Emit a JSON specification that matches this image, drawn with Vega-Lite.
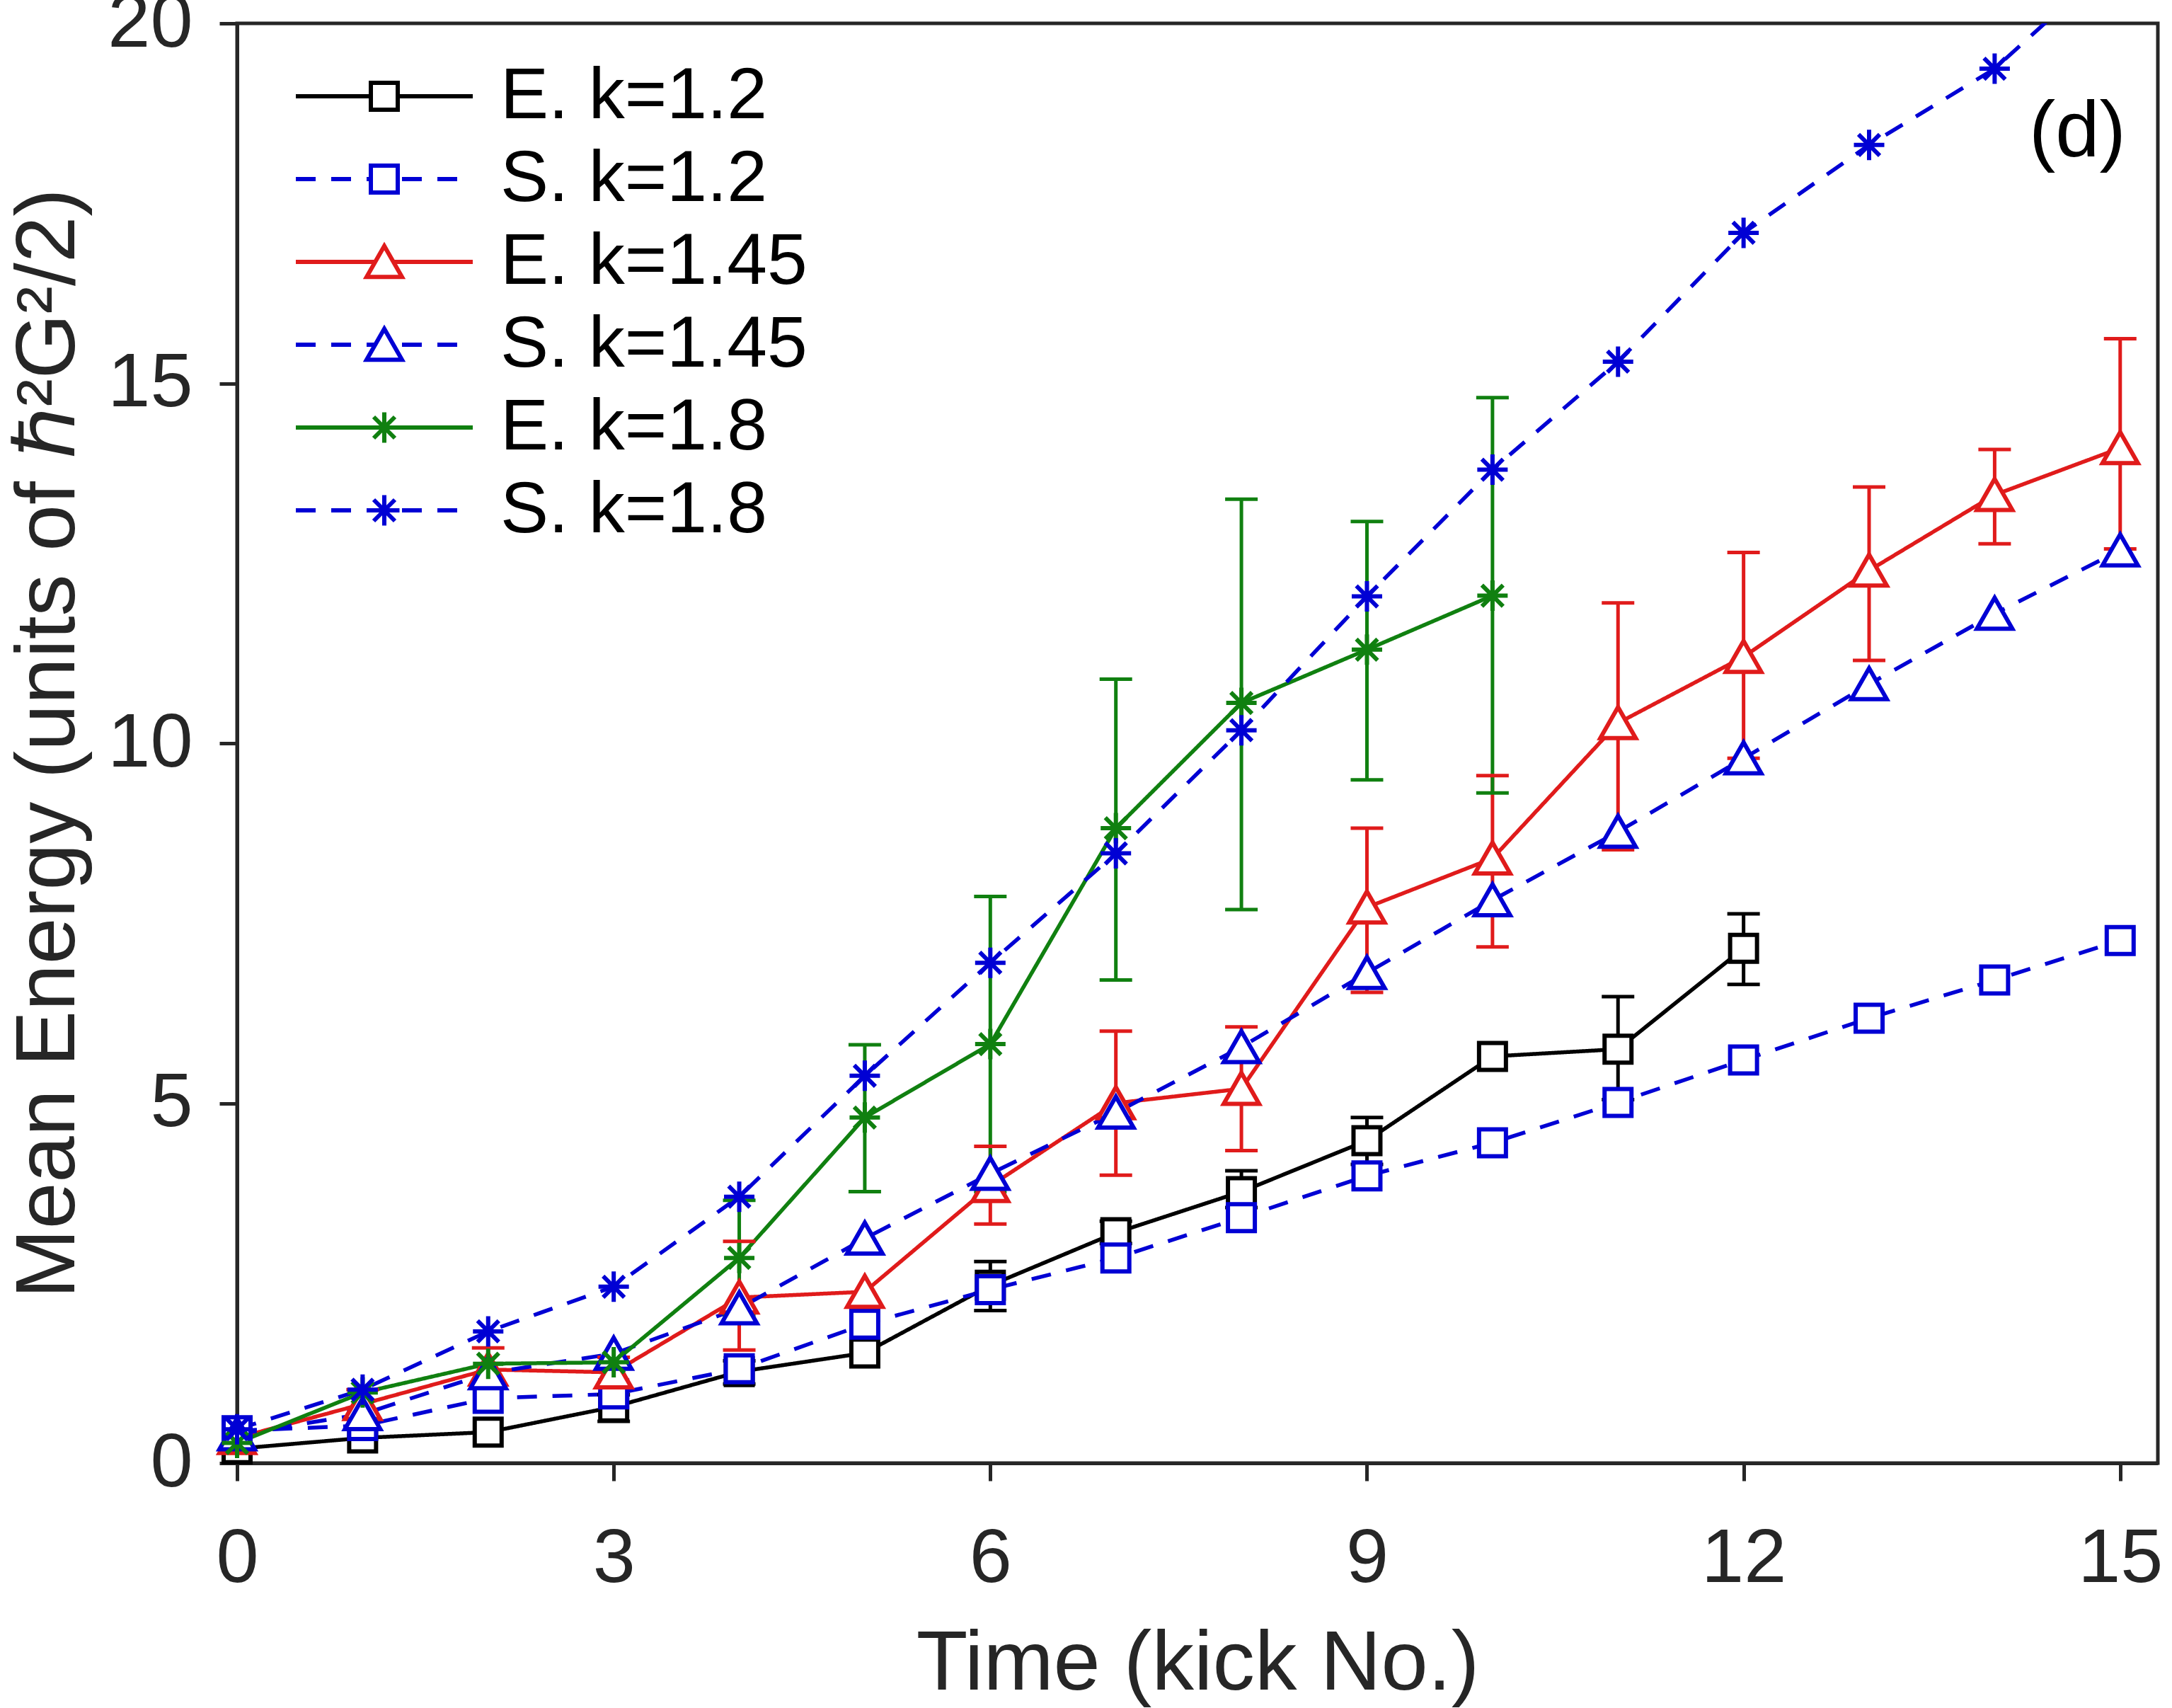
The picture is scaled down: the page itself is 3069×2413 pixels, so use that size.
{
  "$schema": "https://vega.github.io/schema/vega-lite/v6.json",
  "width": 2714,
  "height": 2034,
  "autosize": "none",
  "padding": {"left": 335, "top": 33, "right": 20, "bottom": 346},
  "background": "white",
  "config": {
    "font": "Liberation Sans",
    "view": {"stroke": "#262626", "strokeWidth": 5},
    "axis": {
      "grid": false, "tickSize": 25, "tickWidth": 5, "tickColor": "#262626",
      "domainColor": "#262626", "domainWidth": 5,
      "labelFontSize": 108, "labelColor": "#262626", "labelLimit": 0,
      "labelFlush": false, "labelOverlap": false, "format": "d",
      "titleFontWeight": "normal", "titleColor": "#262626"
    },
    "axisX": {"labelPadding": 57, "titleFontSize": 119, "titlePadding": 36},
    "axisY": {"labelPadding": 38, "titleFontSize": 118, "titlePadding": 22}
  },
  "data": {
    "values": [
      {"s": "E. k=1.2", "x": 0, "y": 0.2},
      {"s": "E. k=1.2", "x": 1, "y": 0.35},
      {"s": "E. k=1.2", "x": 2, "y": 0.43},
      {"s": "E. k=1.2", "x": 3, "y": 0.78, "lo": 0.58, "hi": 0.95},
      {"s": "E. k=1.2", "x": 4, "y": 1.27, "lo": 1.1, "hi": 1.42},
      {"s": "E. k=1.2", "x": 5, "y": 1.53},
      {"s": "E. k=1.2", "x": 6, "y": 2.47, "lo": 2.12, "hi": 2.8},
      {"s": "E. k=1.2", "x": 7, "y": 3.2, "lo": 3.05, "hi": 3.36},
      {"s": "E. k=1.2", "x": 8, "y": 3.77, "lo": 3.55, "hi": 4.06},
      {"s": "E. k=1.2", "x": 9, "y": 4.48, "lo": 4.15, "hi": 4.8},
      {"s": "E. k=1.2", "x": 10, "y": 5.65},
      {"s": "E. k=1.2", "x": 11, "y": 5.75, "lo": 5.05, "hi": 6.48},
      {"s": "E. k=1.2", "x": 12, "y": 7.15, "lo": 6.65, "hi": 7.63},
      {"s": "S. k=1.2", "x": 0, "y": 0.45},
      {"s": "S. k=1.2", "x": 1, "y": 0.52},
      {"s": "S. k=1.2", "x": 2, "y": 0.9},
      {"s": "S. k=1.2", "x": 3, "y": 0.96},
      {"s": "S. k=1.2", "x": 4, "y": 1.31},
      {"s": "S. k=1.2", "x": 5, "y": 1.93},
      {"s": "S. k=1.2", "x": 6, "y": 2.41},
      {"s": "S. k=1.2", "x": 7, "y": 2.85},
      {"s": "S. k=1.2", "x": 8, "y": 3.41},
      {"s": "S. k=1.2", "x": 9, "y": 3.99},
      {"s": "S. k=1.2", "x": 10, "y": 4.45},
      {"s": "S. k=1.2", "x": 11, "y": 5.01},
      {"s": "S. k=1.2", "x": 12, "y": 5.6},
      {"s": "S. k=1.2", "x": 13, "y": 6.18},
      {"s": "S. k=1.2", "x": 14, "y": 6.71},
      {"s": "S. k=1.2", "x": 15, "y": 7.26},
      {"s": "E. k=1.45", "x": 0, "y": 0.35},
      {"s": "E. k=1.45", "x": 1, "y": 0.82, "lo": 0.62, "hi": 1.02},
      {"s": "E. k=1.45", "x": 2, "y": 1.3, "lo": 1.04, "hi": 1.6},
      {"s": "E. k=1.45", "x": 3, "y": 1.26, "lo": 1.08, "hi": 1.47},
      {"s": "E. k=1.45", "x": 4, "y": 2.3, "lo": 1.57, "hi": 3.08},
      {"s": "E. k=1.45", "x": 5, "y": 2.38},
      {"s": "E. k=1.45", "x": 6, "y": 3.85, "lo": 3.32, "hi": 4.4},
      {"s": "E. k=1.45", "x": 7, "y": 5.0, "lo": 4.0, "hi": 6.0},
      {"s": "E. k=1.45", "x": 8, "y": 5.2, "lo": 4.34, "hi": 6.06},
      {"s": "E. k=1.45", "x": 9, "y": 7.72, "lo": 6.54, "hi": 8.82},
      {"s": "E. k=1.45", "x": 10, "y": 8.4, "lo": 7.17, "hi": 9.55},
      {"s": "E. k=1.45", "x": 11, "y": 10.28, "lo": 8.52, "hi": 11.95},
      {"s": "E. k=1.45", "x": 12, "y": 11.2, "lo": 9.79, "hi": 12.65},
      {"s": "E. k=1.45", "x": 13, "y": 12.4, "lo": 11.15, "hi": 13.56},
      {"s": "E. k=1.45", "x": 14, "y": 13.45, "lo": 12.77, "hi": 14.08},
      {"s": "E. k=1.45", "x": 15, "y": 14.1, "lo": 12.7, "hi": 15.62},
      {"s": "S. k=1.45", "x": 0, "y": 0.4},
      {"s": "S. k=1.45", "x": 1, "y": 0.68},
      {"s": "S. k=1.45", "x": 2, "y": 1.25},
      {"s": "S. k=1.45", "x": 3, "y": 1.52},
      {"s": "S. k=1.45", "x": 4, "y": 2.15},
      {"s": "S. k=1.45", "x": 5, "y": 3.12},
      {"s": "S. k=1.45", "x": 6, "y": 4.02},
      {"s": "S. k=1.45", "x": 7, "y": 4.87},
      {"s": "S. k=1.45", "x": 8, "y": 5.78},
      {"s": "S. k=1.45", "x": 9, "y": 6.81},
      {"s": "S. k=1.45", "x": 10, "y": 7.82},
      {"s": "S. k=1.45", "x": 11, "y": 8.77},
      {"s": "S. k=1.45", "x": 12, "y": 9.79},
      {"s": "S. k=1.45", "x": 13, "y": 10.82},
      {"s": "S. k=1.45", "x": 14, "y": 11.8},
      {"s": "S. k=1.45", "x": 15, "y": 12.68},
      {"s": "E. k=1.8", "x": 0, "y": 0.28},
      {"s": "E. k=1.8", "x": 1, "y": 0.98},
      {"s": "E. k=1.8", "x": 2, "y": 1.38},
      {"s": "E. k=1.8", "x": 3, "y": 1.4},
      {"s": "E. k=1.8", "x": 4, "y": 2.85, "lo": 2.06, "hi": 3.65},
      {"s": "E. k=1.8", "x": 5, "y": 4.8, "lo": 3.77, "hi": 5.81},
      {"s": "E. k=1.8", "x": 6, "y": 5.82, "lo": 3.77, "hi": 7.87},
      {"s": "E. k=1.8", "x": 7, "y": 8.82, "lo": 6.71, "hi": 10.89},
      {"s": "E. k=1.8", "x": 8, "y": 10.56, "lo": 7.69, "hi": 13.39},
      {"s": "E. k=1.8", "x": 9, "y": 11.3, "lo": 9.49, "hi": 13.08},
      {"s": "E. k=1.8", "x": 10, "y": 12.05, "lo": 9.31, "hi": 14.8},
      {"s": "S. k=1.8", "x": 0, "y": 0.47},
      {"s": "S. k=1.8", "x": 1, "y": 1.02},
      {"s": "S. k=1.8", "x": 2, "y": 1.83},
      {"s": "S. k=1.8", "x": 3, "y": 2.45},
      {"s": "S. k=1.8", "x": 4, "y": 3.7},
      {"s": "S. k=1.8", "x": 5, "y": 5.38},
      {"s": "S. k=1.8", "x": 6, "y": 6.95},
      {"s": "S. k=1.8", "x": 7, "y": 8.47},
      {"s": "S. k=1.8", "x": 8, "y": 10.18},
      {"s": "S. k=1.8", "x": 9, "y": 12.04},
      {"s": "S. k=1.8", "x": 10, "y": 13.8},
      {"s": "S. k=1.8", "x": 11, "y": 15.3},
      {"s": "S. k=1.8", "x": 12, "y": 17.09},
      {"s": "S. k=1.8", "x": 13, "y": 18.31},
      {"s": "S. k=1.8", "x": 14, "y": 19.37},
      {"s": "S. k=1.8", "x": 15, "y": 20.95}
    ]
  },
  "layer": [
    {
      "mark": {"type": "line", "strokeWidth": 5.5, "clip": true},
      "encoding": {
        "x": {
          "field": "x", "type": "quantitative",
          "scale": {"domain": [0, 15.3], "nice": false, "zero": false},
          "axis": {"values": [0, 3, 6, 9, 12, 15]},
          "title": "Time (kick No.)"
        },
        "y": {
          "field": "y", "type": "quantitative",
          "scale": {"domain": [0, 20], "nice": false},
          "axis": {"values": [0, 5, 10, 15, 20]},
          "title": "Mean Energy (units of ℏ²G²/2)"
        },
        "color": {
          "field": "s", "type": "nominal",
          "scale": {
            "domain": ["E. k=1.2", "S. k=1.2", "E. k=1.45", "S. k=1.45", "E. k=1.8", "S. k=1.8"],
            "range": ["#000000", "#0000d4", "#e01b1b", "#0000d4", "#108010", "#0000d4"]
          },
          "legend": {
            "orient": "none", "legendX": 80, "legendY": 52, "title": null, "padding": 0,
            "symbolType": "stroke", "symbolSize": 62500, "symbolStrokeWidth": 6, "clipHeight": 102,
            "labelFontSize": 102, "labelColor": "black", "labelOffset": 36, "labelLimit": 0,
            "rowPadding": 15
          }
        },
        "strokeDash": {
          "field": "s", "type": "nominal",
          "scale": {
            "domain": ["E. k=1.2", "S. k=1.2", "E. k=1.45", "S. k=1.45", "E. k=1.8", "S. k=1.8"],
            "range": [[1, 0], [28, 22], [1, 0], [28, 22], [1, 0], [28, 22]]
          },
          "legend": {
            "orient": "none", "legendX": 80, "legendY": 52, "title": null, "padding": 0,
            "symbolType": "stroke", "symbolSize": 62500, "symbolStrokeWidth": 6, "clipHeight": 102,
            "labelFontSize": 102, "labelColor": "black", "labelOffset": 36, "labelLimit": 0,
            "rowPadding": 15
          }
        }
      }
    },
    {
      "transform": [{"filter": "datum.lo != null"}],
      "mark": {"type": "rule", "strokeWidth": 5},
      "encoding": {
        "x": {"field": "x", "type": "quantitative", "title": "Time (kick No.)"},
        "y": {"field": "lo", "type": "quantitative", "title": "Mean Energy (units of ℏ²G²/2)"},
        "y2": {"field": "hi"},
        "color": {"field": "s", "type": "nominal", "legend": null}
      }
    },
    {
      "transform": [{"filter": "datum.lo != null"}],
      "mark": {"type": "tick", "orient": "horizontal", "size": 46, "thickness": 5, "opacity": 1},
      "encoding": {
        "x": {"field": "x", "type": "quantitative", "title": "Time (kick No.)"},
        "y": {"field": "lo", "type": "quantitative", "title": "Mean Energy (units of ℏ²G²/2)"},
        "color": {"field": "s", "type": "nominal", "legend": null}
      }
    },
    {
      "transform": [{"filter": "datum.lo != null"}],
      "mark": {"type": "tick", "orient": "horizontal", "size": 46, "thickness": 5, "opacity": 1},
      "encoding": {
        "x": {"field": "x", "type": "quantitative", "title": "Time (kick No.)"},
        "y": {"field": "hi", "type": "quantitative", "title": "Mean Energy (units of ℏ²G²/2)"},
        "color": {"field": "s", "type": "nominal", "legend": null}
      }
    },
    {
      "transform": [{"filter": "datum.y <= 20"}],
      "mark": {"type": "point", "filled": true, "fill": "white", "strokeWidth": 6, "size": 2500, "opacity": 1},
      "encoding": {
        "x": {"field": "x", "type": "quantitative", "title": "Time (kick No.)"},
        "y": {"field": "y", "type": "quantitative", "title": "Mean Energy (units of ℏ²G²/2)"},
        "stroke": {
          "field": "s", "type": "nominal",
          "scale": {
            "domain": ["S. k=1.8", "E. k=1.8", "S. k=1.45", "E. k=1.45", "S. k=1.2", "E. k=1.2"],
            "range": ["#0000d4", "#108010", "#0000d4", "#e01b1b", "#0000d4", "#000000"]
          },
          "legend": {
            "orient": "none", "legendX": 157, "legendY": 52, "title": null, "padding": 0,
            "values": ["E. k=1.2", "S. k=1.2", "E. k=1.45", "S. k=1.45", "E. k=1.8", "S. k=1.8"],
            "symbolSize": 2500, "symbolStrokeWidth": 6, "symbolFillColor": "white",
            "labelFontSize": 102, "labelExpr": "' '", "labelOpacity": 0, "labelOffset": 36, "labelLimit": 0,
            "rowPadding": 15
          }
        },
        "shape": {
          "field": "s", "type": "nominal",
          "scale": {
            "domain": ["S. k=1.8", "E. k=1.8", "S. k=1.45", "E. k=1.45", "S. k=1.2", "E. k=1.2"],
            "range": [
              "M-0.86,0H0.86M0,-0.86V0.86M-0.6,-0.6L0.6,0.6M-0.6,0.6L0.6,-0.6",
              "M-0.86,0H0.86M0,-0.86V0.86M-0.6,-0.6L0.6,0.6M-0.6,0.6L0.6,-0.6",
              "M0,-0.9L1,0.85L-1,0.85Z",
              "M0,-0.9L1,0.85L-1,0.85Z",
              "M-0.76,-0.76H0.76V0.76H-0.76Z",
              "M-0.76,-0.76H0.76V0.76H-0.76Z"
            ]
          },
          "legend": {
            "orient": "none", "legendX": 157, "legendY": 52, "title": null, "padding": 0,
            "values": ["E. k=1.2", "S. k=1.2", "E. k=1.45", "S. k=1.45", "E. k=1.8", "S. k=1.8"],
            "symbolSize": 2500, "symbolStrokeWidth": 6, "symbolFillColor": "white",
            "labelFontSize": 102, "labelExpr": "' '", "labelOpacity": 0, "labelOffset": 36, "labelLimit": 0,
            "rowPadding": 15
          }
        }
      }
    },
    {
      "data": {"values": [{"label": "(d)"}]},
      "mark": {"type": "text", "fontSize": 112, "align": "center", "baseline": "middle", "color": "black"},
      "encoding": {
        "x": {"datum": 14.66, "type": "quantitative"},
        "y": {"datum": 18.49, "type": "quantitative"},
        "text": {"field": "label", "type": "nominal"}
      }
    }
  ]
}
